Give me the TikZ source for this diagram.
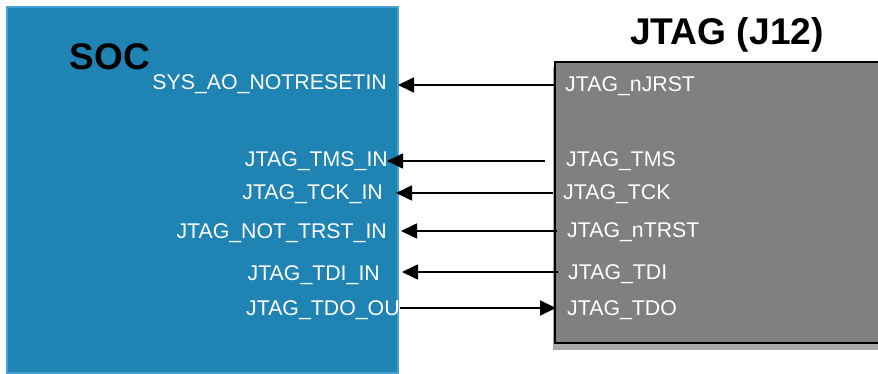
\documentclass[tikz,border=0pt]{standalone}
\usepackage{fontspec}
\setmainfont{Liberation Sans}
\usetikzlibrary{arrows.meta}
\definecolor{socblue}{RGB}{31,131,179}
\definecolor{socedge}{RGB}{70,160,210}
\definecolor{jgray}{RGB}{128,128,128}
\definecolor{jshadow}{RGB}{170,170,170}
\tikzset{
  pinlbl/.style={inner sep=0pt, text=white, font=\fontsize{21.3}{21.3}\selectfont},
  soclbl/.style={pinlbl, anchor=base east},
  jtaglbl/.style={pinlbl, anchor=base west},
  title/.style={inner sep=0pt, font=\fontsize{37}{37}\selectfont\bfseries, anchor=base},
  sig/.style={line width=1.7pt, -{Triangle[length=16pt,width=15pt]}},
}
\begin{document}
\begin{tikzpicture}[x=1pt,y=-1pt]
\useasboundingbox (0,0) rectangle (878,374);
% SOC block
\fill[socblue, draw=socedge, line width=1.5pt] (7,7) rectangle (398,373);
\node[title] (soc) at (110,70) {SOC};
% JTAG header block with drop shadow
\fill[jshadow] (553,67) rectangle (882,350);
\fill[jgray, draw=black, line width=1.5pt] (555,62) rectangle (882,343);
\node[title, font=\fontsize{37.2}{37.2}\selectfont\bfseries] (jtitle) at (727,45) {JTAG (J12)};

% SOC side labels
\node[soclbl] (s1) at (387,90) {SYS\_AO\_NOTRESETIN};
\node[soclbl] (s2) at (388,167) {JTAG\_TMS\_IN};
\node[soclbl] (s3) at (383,200) {JTAG\_TCK\_IN};
\node[soclbl] (s4) at (387,238) {JTAG\_NOT\_TRST\_IN};
\node[soclbl] (s5) at (380,280) {JTAG\_TDI\_IN};
\node[pinlbl, anchor=base west] (s6) at (246,315) {JTAG\_TDO\_OU};

% JTAG side labels
\node[jtaglbl] (j1) at (565,92) {JTAG\_nJRST};
\node[jtaglbl] (j2) at (566,167) {JTAG\_TMS};
\node[jtaglbl] (j3) at (563,200) {JTAG\_TCK};
\node[jtaglbl] (j4) at (567,237) {JTAG\_nTRST};
\node[jtaglbl] (j5) at (568,279) {JTAG\_TDI};
\node[jtaglbl] (j6) at (567,315) {JTAG\_TDO};

% signal ends
\coordinate (a1) at (555,85);  \coordinate (b1) at (398,85);
\coordinate (a2) at (545,161); \coordinate (b2) at (387,161);
\coordinate (a3) at (553,193); \coordinate (b3) at (396,193);
\coordinate (a4) at (557,231); \coordinate (b4) at (401,231);
\coordinate (a5) at (558,272); \coordinate (b5) at (402,272);
\coordinate (a6) at (400,308); \coordinate (b6) at (556,308);

% connectors
\draw[sig] (a1) -- (b1);
\draw[sig] (a2) -- (b2);
\draw[sig] (a3) -- (b3);
\draw[sig] (a4) -- (b4);
\draw[sig] (a5) -- (b5);
\draw[sig] (a6) -- (b6);
\end{tikzpicture}
\end{document}
